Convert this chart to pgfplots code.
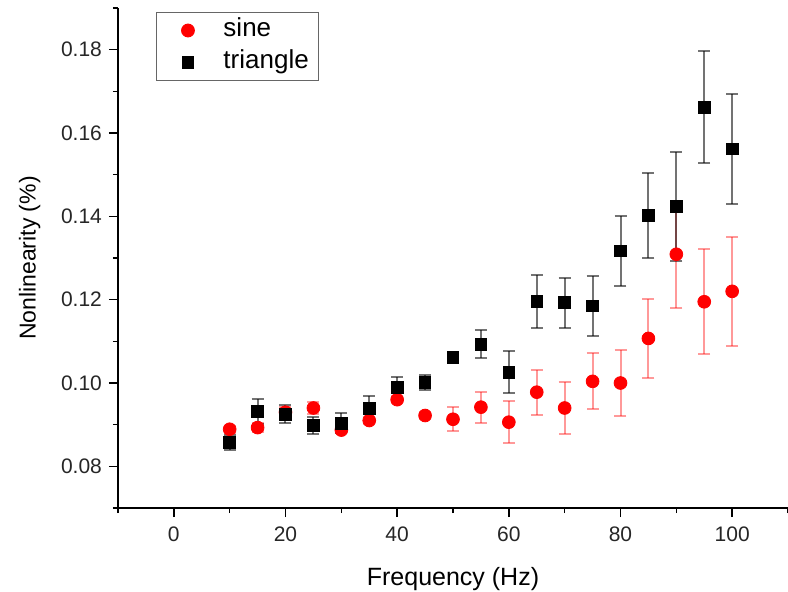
\documentclass[border=0pt]{standalone}
\usepackage{fontspec}
\setmainfont{Liberation Sans}
\usepackage{pgfplots}
\pgfplotsset{compat=1.18}
\pgfplotstableread{
x y e
10 0.0889 0.0008
15 0.0893 0.0010
20 0.0930 0.0012
25 0.0940 0.0015
30 0.0887 0.0008
35 0.0910 0.0008
40 0.0960 0.0008
45 0.0922 0.0008
50 0.0913 0.0029
55 0.0942 0.0037
60 0.0906 0.0050
65 0.0978 0.0054
70 0.0940 0.0063
75 0.1004 0.0067
80 0.1000 0.0080
85 0.1107 0.0095
90 0.1309 0.0128
95 0.1195 0.0126
100 0.1220 0.0131
}\sine
\pgfplotstableread{
x y e
10 0.0858 0.0018
15 0.0932 0.0030
20 0.0925 0.0022
25 0.0898 0.0020
30 0.0903 0.0024
35 0.0939 0.0029
40 0.0990 0.0025
45 0.1001 0.0018
50 0.1062 0.0008
55 0.1093 0.0034
60 0.1026 0.0050
65 0.1196 0.0063
70 0.1193 0.0060
75 0.1185 0.0072
80 0.1317 0.0084
85 0.1402 0.0102
90 0.1424 0.0131
95 0.1662 0.0135
100 0.1562 0.0132
}\triangle
\begin{document}
\begin{tikzpicture}
\begin{axis}[
  at={(0,0)}, anchor=south west,
  scale only axis, width=335pt, height=250pt,
  xmin=-10, xmax=110, ymin=0.07, ymax=0.19,
  axis lines*=left,
  axis line style={line width=0.75pt},
  every tick/.style={black, line width=0.75pt},
  tick align=outside,
  major tick length=4.5pt, minor tick length=2.5pt,
  xtick={0,20,...,100},
  minor xtick={-10,10,...,110},
  ytick={0.08,0.10,0.12,0.14,0.16,0.18},
  minor ytick={0.07,0.09,0.11,0.13,0.15,0.17,0.19},
  scaled y ticks=false,
  yticklabel style={/pgf/number format/.cd, fixed, fixed zerofill, precision=2},
  /pgf/number format/assume math mode=true,
  tick label style={font=\fontsize{10.5}{12}\selectfont, text=black!85},
  xticklabel style={yshift=-1.5pt},
  xlabel={Frequency (Hz)},
  ylabel={Nonlinearity (\%)},
  xlabel style={font=\fontsize{12.5}{15}\selectfont, at={(axis description cs:0.5,-0.142)}, anchor=center},
  ylabel style={font=\fontsize{11.5}{14}\selectfont, at={(axis description cs:-0.132,0.5)}, anchor=center, rotate=0},
  clip=false,
  legend style={at={(axis description cs:0.0567,0.992)}, anchor=north west,
    draw=black!60, line width=0.5pt, inner xsep=2pt, inner ysep=1pt,
    font=\fontsize{13}{15}\selectfont,
    nodes={text height=9pt, text depth=3pt, inner ysep=2pt, inner xsep=3pt},
    row sep=0pt},
  legend cell align=left,
  legend image code/.code={\path (0pt,0pt) (28pt,0pt); \draw[#1] plot coordinates {(13.5pt,0pt)};},
]
\addplot[only marks, mark=*, mark size=3.2pt, mark options={fill=red, draw=red},
  error bars/.cd, y dir=both, y explicit,
  error bar style={draw=red, draw opacity=0.4, line width=1pt},
  error mark options={rotate=90, mark size=3pt, draw=red, draw opacity=0.4, line width=1pt}]
  table[x=x, y=y, y error=e] {\sine};
\addlegendentry{sine}
\addplot[only marks, mark=square*, mark size=2.9pt, mark options={fill=black, draw=black},
  error bars/.cd, y dir=both, y explicit,
  error bar style={draw=black, draw opacity=0.55, line width=1pt},
  error mark options={rotate=90, mark size=3pt, draw=black, draw opacity=0.55, line width=1pt}]
  table[x=x, y=y, y error=e] {\triangle};
\addlegendentry{triangle}
\end{axis}
\pgfresetboundingbox
\path[use as bounding box] (-59pt,-41.5pt) rectangle (335pt,254pt);
\end{tikzpicture}
\end{document}
